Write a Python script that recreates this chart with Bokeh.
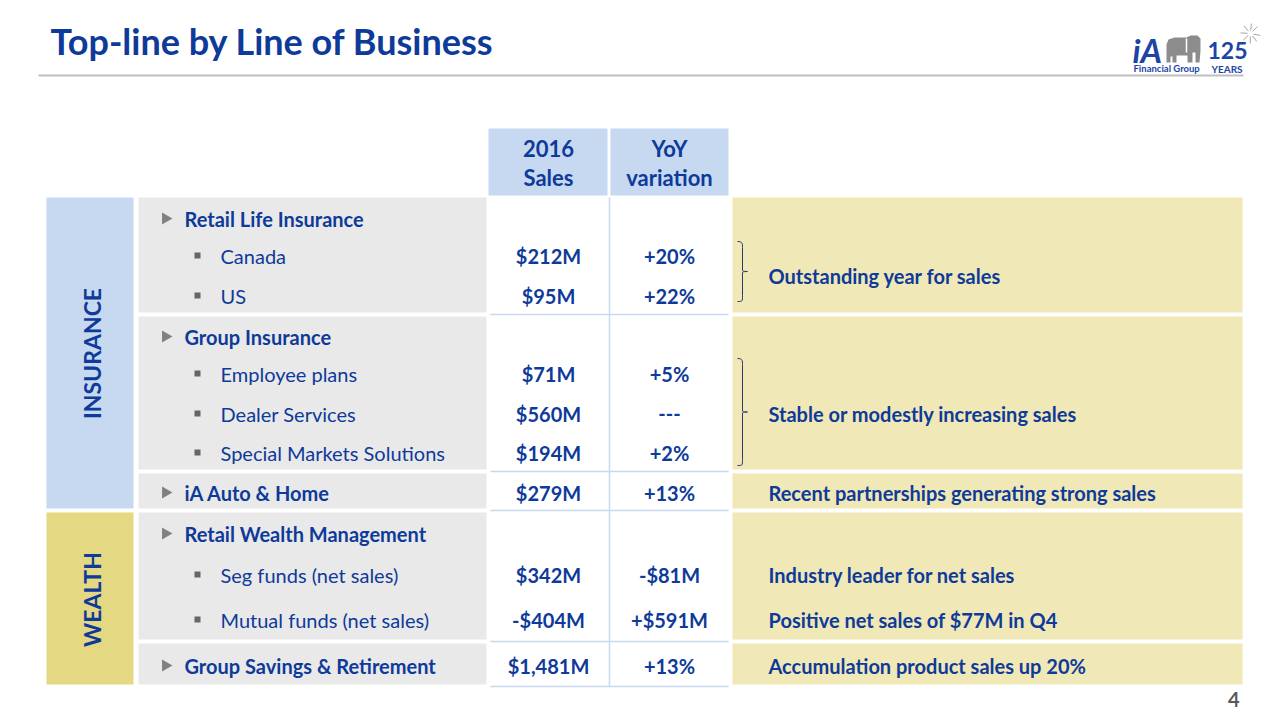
import math
from bokeh.plotting import figure
from bokeh.models import Range1d, ColumnDataSource
from bokeh.core.properties import value
from bokeh.embed import file_html
from bokeh.resources import INLINE

# ---------------- data ----------------
title = "Top-line by Line of Business"
header_sales = ["2016", "Sales"]
header_yoy = ["YoY", "variation"]
categories = ["INSURANCE", "WEALTH"]
row_labels = ["Retail Life Insurance", "Canada", "US", "Group Insurance",
              "Employee plans", "Dealer Services", "Special Markets Solutions",
              "iA Auto & Home", "Retail Wealth Management",
              "Seg funds (net sales)", "Mutual funds (net sales)",
              "Group Savings & Retirement"]
row_level = [0, 1, 1, 0, 1, 1, 1, 0, 0, 1, 1, 0]
sales_2016 = ["", "$212M", "$95M", "", "$71M", "$560M", "$194M", "$279M",
              "", "$342M", "-$404M", "$1,481M"]
yoy_variation = ["", "+20%", "+22%", "", "+5%", "---", "+2%", "+13%",
                 "", "-$81M", "+$591M", "+13%"]
comments = ["Outstanding year for sales", "Stable or modestly increasing sales",
            "Recent partnerships generating strong sales",
            "Industry leader for net sales", "Positive net sales of $77M in Q4",
            "Accumulation product sales up 20%"]
page_number = "4"

# ---------------- layout (pixel positions of the slide) ----------------
row_y = [218, 255, 295, 336, 373, 413, 452, 492, 533, 574, 619, 665]
group_bounds = [(197, 312), (316, 469), (473, 508), (512, 639), (643, 684)]
category_bounds = [(197, 508), (512, 684)]
category_colors = ["#C6D9F1", "#E5D882"]
comment_y = [275, 413, 492, 574, 619, 665]
brace_spans = [(241, 301), (358, 465)]

BLUE = "#0E3A99"
LOGO_BLUE = "#1B44A6"
FONT = "Lato"

W, H = 1264, 713
p = figure(width=W, height=H, output_backend="svg", toolbar_location=None,
           x_range=Range1d(0, W), y_range=Range1d(H, 0),
           min_border=0, outline_line_color=None, background_fill_color="white")
p.axis.visible = False
p.grid.visible = False

# title + rule
p.text(x=[50], y=[40], text=[title], text_font=value(FONT), text_font_style="bold",
       text_font_size="36px", text_color=BLUE, text_baseline="middle")
p.segment(x0=[38], y0=[75], x1=[1243], y1=[75], line_color="#BFBFBF", line_width=2)

# logo (approximation)
p.text(x=[1132], y=[49], text=["iA"], text_font=value(FONT), text_font_style="bold italic",
       text_font_size="33px", text_color=LOGO_BLUE, text_baseline="middle")
p.patch(x=[1166, 1166, 1168, 1174, 1186, 1190, 1197, 1200, 1200, 1199, 1195, 1195, 1192,
           1192, 1187, 1187, 1176, 1176, 1172, 1172, 1170, 1170],
        y=[62, 44, 39, 37, 37, 35, 35, 38, 50, 62, 62, 52, 52, 62, 62, 55, 55, 62, 62, 56, 56, 62],
        fill_color="#8C8C8C", line_color=None)
p.segment(x0=[1186], y0=[38], x1=[1186], y1=[52], line_color="white", line_width=1.5)
p.text(x=[1207], y=[50], text=["125"], text_font=value(FONT), text_font_style="bold",
       text_font_size="23px", text_color=LOGO_BLUE, text_baseline="middle")
p.text(x=[1133], y=[68], text=["Financial Group"], text_font=value(FONT), text_font_style="bold",
       text_font_size="9.5px", text_color=LOGO_BLUE, text_baseline="middle")
p.text(x=[1211], y=[68], text=["YEARS"], text_font=value(FONT), text_font_style="bold",
       text_font_size="10px", text_color=LOGO_BLUE, text_baseline="middle")
ang = [0.2, 0.9, 1.6, 2.4, 3.2, 4.0, 4.8, 5.5]
p.segment(x0=[1250 + 3 * math.cos(a) for a in ang], y0=[33 + 3 * math.sin(a) for a in ang],
          x1=[1250 + 10 * math.cos(a) for a in ang], y1=[33 + 10 * math.sin(a) for a in ang],
          line_color="#A6A6A6", line_width=1)

# header cells
p.quad(left=[488, 610], right=[607, 728], top=[128, 128], bottom=[195, 195],
       fill_color="#C6D9F1", line_color=None)
p.text(x=[548, 548], y=[148, 177], text=header_sales, text_font=value(FONT),
       text_font_style="bold", text_font_size="22px", text_color=BLUE,
       text_align="center", text_baseline="middle")
p.text(x=[669, 669], y=[148, 177], text=header_yoy, text_font=value(FONT),
       text_font_style="bold", text_font_size="22px", text_color=BLUE,
       text_align="center", text_baseline="middle")

# category cells
p.quad(left=[46, 46], right=[133, 133], top=[b[0] for b in category_bounds],
       bottom=[b[1] for b in category_bounds], fill_color=category_colors, line_color=None)
p.text(x=[91, 91], y=[353, 599], text=categories,
       angle=math.pi / 2, text_font=value(FONT), text_font_style="bold",
       text_font_size="23px", text_color=BLUE, text_align="center", text_baseline="middle")

# label & comment cells
tops = [g[0] for g in group_bounds]
bots = [g[1] for g in group_bounds]
p.quad(left=[138] * 5, right=[486] * 5, top=tops, bottom=bots, fill_color="#E9E9E9", line_color=None)
p.quad(left=[732] * 5, right=[1242] * 5, top=tops, bottom=bots, fill_color="#F0E8B6", line_color=None)

# value column separators
p.segment(x0=[490] * 5, x1=[728] * 5, y0=[b + 2 for b in bots], y1=[b + 2 for b in bots],
          line_color="#C6D9F1", line_width=1.5)
p.segment(x0=[609], x1=[609], y0=[197], y1=[686], line_color="#C6D9F1", line_width=1.5)

# row labels
main_idx = [i for i, l in enumerate(row_level) if l == 0]
sub_idx = [i for i, l in enumerate(row_level) if l == 1]
p.scatter(x=[165] * len(main_idx), y=[row_y[i] for i in main_idx], marker="triangle",
          angle=-math.pi / 2, size=12, fill_color="#808080", line_color=None)
p.text(x=[184] * len(main_idx), y=[row_y[i] for i in main_idx],
       text=[row_labels[i] for i in main_idx], text_font=value(FONT), text_font_style="bold",
       text_font_size="20px", text_color=BLUE, text_baseline="middle")
p.scatter(x=[197] * len(sub_idx), y=[row_y[i] for i in sub_idx], marker="square",
          size=6, fill_color="#666666", line_color=None)
p.text(x=[220] * len(sub_idx), y=[row_y[i] for i in sub_idx],
       text=[row_labels[i] for i in sub_idx], text_font=value(FONT),
       text_font_size="20px", text_color=BLUE, text_baseline="middle")

# values
vsrc = ColumnDataSource(dict(y=row_y, s=sales_2016, v=yoy_variation))
p.text(x=548, y="y", text="s", source=vsrc, text_font=value(FONT), text_font_style="bold",
       text_font_size="20px", text_color=BLUE, text_align="center", text_baseline="middle")
p.text(x=669, y="y", text="v", source=vsrc, text_font=value(FONT), text_font_style="bold",
       text_font_size="20px", text_color=BLUE, text_align="center", text_baseline="middle")

# comments
p.text(x=[768] * len(comments), y=comment_y, text=comments, text_font=value(FONT),
       text_font_style="bold", text_font_size="20px", text_color=BLUE, text_baseline="middle")

# braces
for (t, b) in brace_spans:
    m = (t + b) / 2
    x0, x1, x2 = 737, 742, 747
    p.bezier(x0=[x0, x1, x1, x1], y0=[t, m - 1, m + 1, b - 6],
             x1=[x1, x2, x2, x0], y1=[t + 6, m, m, b],
             cx0=[x1, x1, x1, x1], cy0=[t, m - 1, m + 1, b],
             cx1=[x1, x1, x1, x1], cy1=[t + 2, m, m, b],
             line_color="#2B3A67", line_width=1)
    p.segment(x0=[x1, x1], y0=[t + 6, m + 1], x1=[x1, x1], y1=[m - 1, b - 6],
              line_color="#2B3A67", line_width=1)

# page number
p.text(x=[1239], y=[699], text=[page_number], text_font=value(FONT), text_font_style="bold",
       text_font_size="20px", text_color="#595959", text_align="right", text_baseline="middle")

open("out.html", "w").write(file_html(p, INLINE))
